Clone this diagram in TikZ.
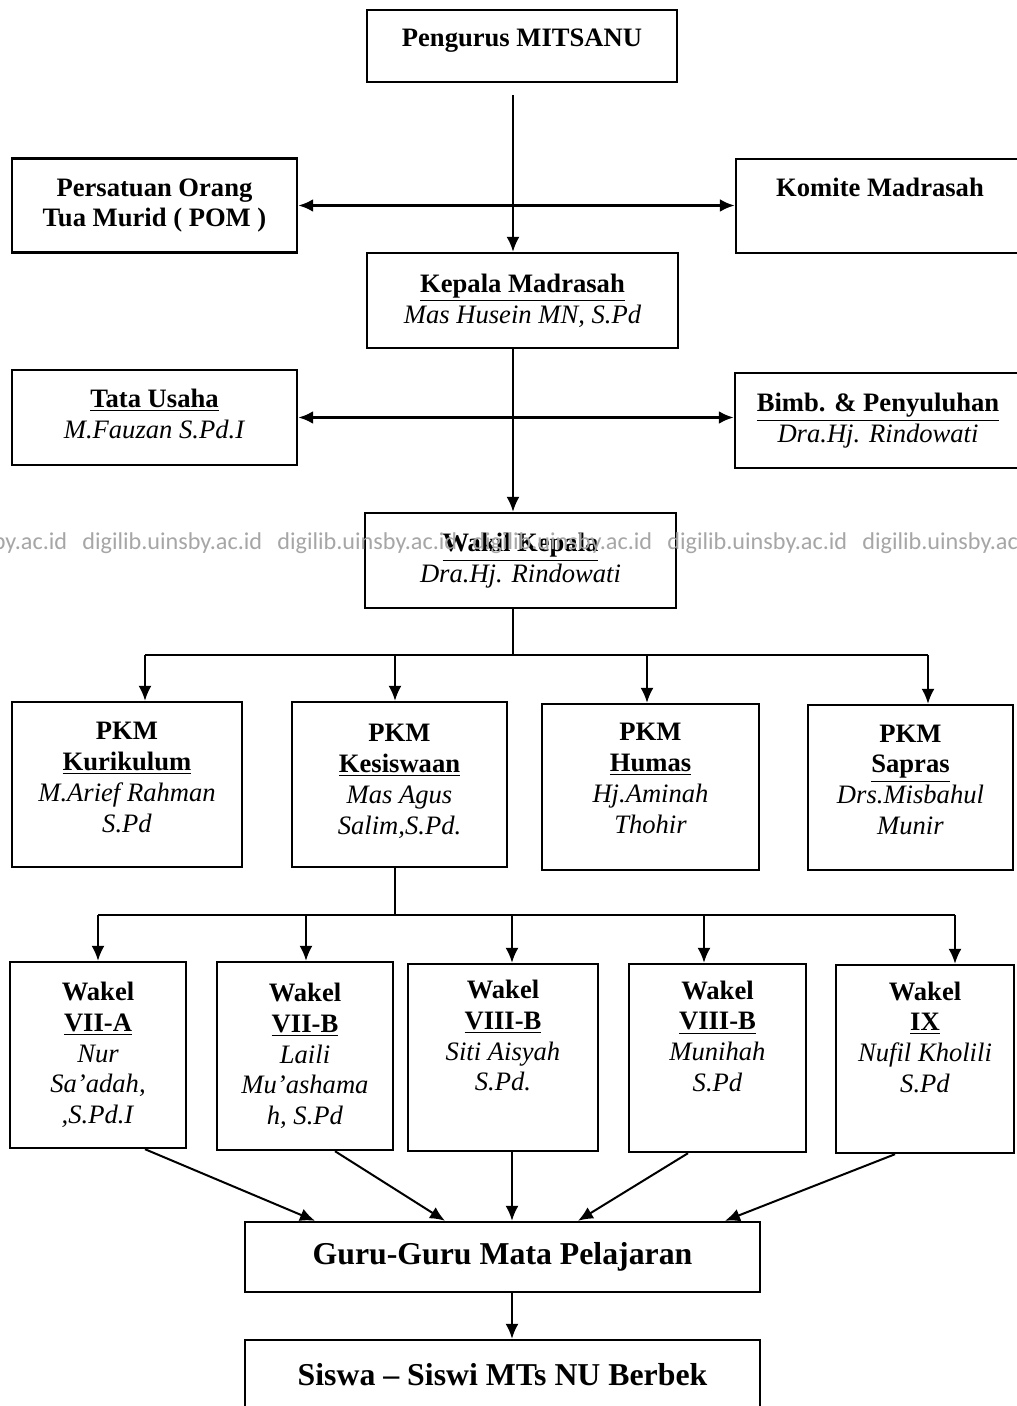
\documentclass[tikz,border=0pt]{standalone}
\usepackage{fontspec}
\setmainfont{Liberation Serif}
\newfontfamily\wmfont{Carlito}
\usetikzlibrary{arrows.meta}

\tikzset{
  box/.style={draw, line width=1.2pt, align=center, inner sep=0pt,
    font=\fontsize{13.3}{15.4}\selectfont},
  bigbox/.style={box, font=\fontsize{15.9}{18}\selectfont\bfseries},
  line/.style={line width=1pt},
  bus/.style={line width=1.4pt},
  dbl/.style={line width=1.5pt, <->},
  wm/.style={text=black!35, font=\wmfont\fontsize{12.1}{14}\selectfont,
    anchor=west, inner sep=0pt}
}

\begin{document}
\begin{tikzpicture}[x=0.5pt, y=-0.5pt, >={Latex[length=7.5pt,width=6.5pt]}]

\useasboundingbox (0,0) rectangle (1016,1406);
\fill[white] (0,0) rectangle (1016,1406);

%% top part
\node[box, minimum width=155pt, minimum height=36pt, text depth=8.5pt] (top) at (522,46) {\textbf{Pengurus MITSANU}};
\node[box, minimum width=142.5pt, minimum height=47pt] (pom) at (154.5,205.5) {\textbf{Persatuan Orang}\\\textbf{Tua Murid ( POM )}};
\node[box, minimum width=144pt, minimum height=47pt, text depth=18.4pt] (kom) at (880,206) {\textbf{Komite Madrasah}};
\node[box, minimum width=155.5pt, minimum height=47.5pt] (kep) at (522.5,300.5) {\textbf{\underline{Kepala Madrasah}}\\\textit{Mas Husein MN, S.Pd}\\[-13.4pt]};
\node[box, minimum width=142.5pt, minimum height=47.5pt] (tu) at (154.5,417.5) {\textbf{\underline{Tata Usaha}}\\\textit{M.Fauzan S.Pd.I}\\[-11.4pt]};
\node[box, minimum width=143pt, minimum height=47.5pt] (bk) at (878,420.5) {\textbf{\underline{Bimb. \& Penyuluhan}}\\\textit{Dra.Hj. Rindowati}};
\node[box, minimum width=155.5pt, minimum height=47.5pt] (wk) at (520.5,560.5) {\textbf{\underline{Wakil Kepala}}\\\textit{Dra.Hj. Rindowati}};

%% PKM row
\node[box, minimum width=115pt, minimum height=82.5pt] (pkm1) at (127,784.5) {\textbf{PKM}\\\textbf{\underline{Kurikulum}}\\\textit{M.Arief Rahman}\\\textit{S.Pd}\\[-8pt]};
\node[box, minimum width=107.5pt, minimum height=82.5pt] (pkm2) at (399.5,784.5) {\textbf{PKM}\\\textbf{\underline{Kesiswaan}}\\\textit{Mas Agus}\\\textit{Salim,S.Pd.}\\[-10pt]};
\node[box, minimum width=108.5pt, minimum height=83pt] (pkm3) at (650.5,787) {\textbf{PKM}\\\textbf{\underline{Humas}}\\\textit{Hj.Aminah}\\\textit{Thohir}\\[-6.5pt]};
\node[box, minimum width=102.5pt, minimum height=82.5pt] (pkm4) at (910.5,787.5) {\textbf{PKM}\\\textbf{\underline{Sapras}}\\\textit{Drs.Misbahul}\\\textit{Munir}\\[-7.5pt]};

%% Wakel row
\node[box, minimum width=88pt, minimum height=93pt] (wakel1) at (98,1055) {\textbf{Wakel}\\\textbf{\underline{VII-A}}\\\textit{Nur}\\\textit{Sa'adah,}\\\textit{,S.Pd.I}};
\node[box, minimum width=88pt, minimum height=94pt] (wakel2) at (305,1056) {\textbf{Wakel}\\\textbf{\underline{VII-B}}\\\textit{Laili}\\\textit{Mu'ashama}\\\textit{h, S.Pd}};
\node[box, minimum width=95pt, minimum height=93.5pt] (wakel3) at (503,1057.5) {\textbf{Wakel}\\\textbf{\underline{VIII-B}}\\\textit{Siti Aisyah}\\\textit{S.Pd.}\\[6.6pt]};
\node[box, minimum width=88.5pt, minimum height=94pt] (wakel4) at (717.5,1058) {\textbf{Wakel}\\\textbf{\underline{VIII-B}}\\\textit{Munihah}\\\textit{S.Pd}\\[6.6pt]};
\node[box, minimum width=89pt, minimum height=94pt] (wakel5) at (925,1059) {\textbf{Wakel}\\\textbf{\underline{IX}}\\\textit{Nufil Kholili}\\\textit{S.Pd}\\[6.6pt]};

%% bottom
\node[bigbox, minimum width=257.5pt, minimum height=35pt] (guru) at (502.5,1257) {Guru-Guru Mata Pelajaran};
\node[bigbox, minimum width=257.5pt, minimum height=35pt] (siswa) at (502.5,1375) {Siswa -- Siswi MTs NU Berbek};

%% spine
\coordinate (t0) at (513,95);
\draw[line,->] (t0) -- (kep.north -| t0);
\draw[line,->] (kep.south -| t0) -- (wk.north -| t0);

%% side arrows
\draw[dbl] (pom.east) -- (pom.east -| kom.west);
\draw[dbl] (tu.east) -- (tu.east -| bk.west);

%% first bus
\coordinate (busa) at (513,655);
\draw[line] (wk.south -| busa) -- (busa);
\draw[bus] (145,655) -- (928,655);
\foreach \x/\n in {145/pkm1, 395/pkm2, 647/pkm3, 928/pkm4}
  \draw[line,->] (\x,655) -- (\n.north -| \x,655);

%% second bus
\coordinate (busb) at (395,915);
\draw[line] (pkm2.south -| busb) -- (busb);
\draw[bus] (98,915) -- (955,915);
\foreach \x/\n in {98/wakel1, 306/wakel2, 512/wakel3, 704/wakel4, 955/wakel5}
  \draw[line,->] (\x,915) -- (\n.north -| \x,915);

%% to the teachers
\foreach \a/\n/\b in {145/wakel1/315, 335/wakel2/445, 512/wakel3/512, 688/wakel4/578, 895/wakel5/725}
  \draw[line,->] (\n.south -| \a,0) -- (guru.north -| \b,0);
\draw[line,->] (guru.south -| 512,0) -- (siswa.north -| 512,0);

%% watermark
\foreach \x in {-113,82,277,472,667,862}
  \node[wm] at (\x,543) {digilib.uinsby.ac.id};

\end{tikzpicture}
\end{document}
